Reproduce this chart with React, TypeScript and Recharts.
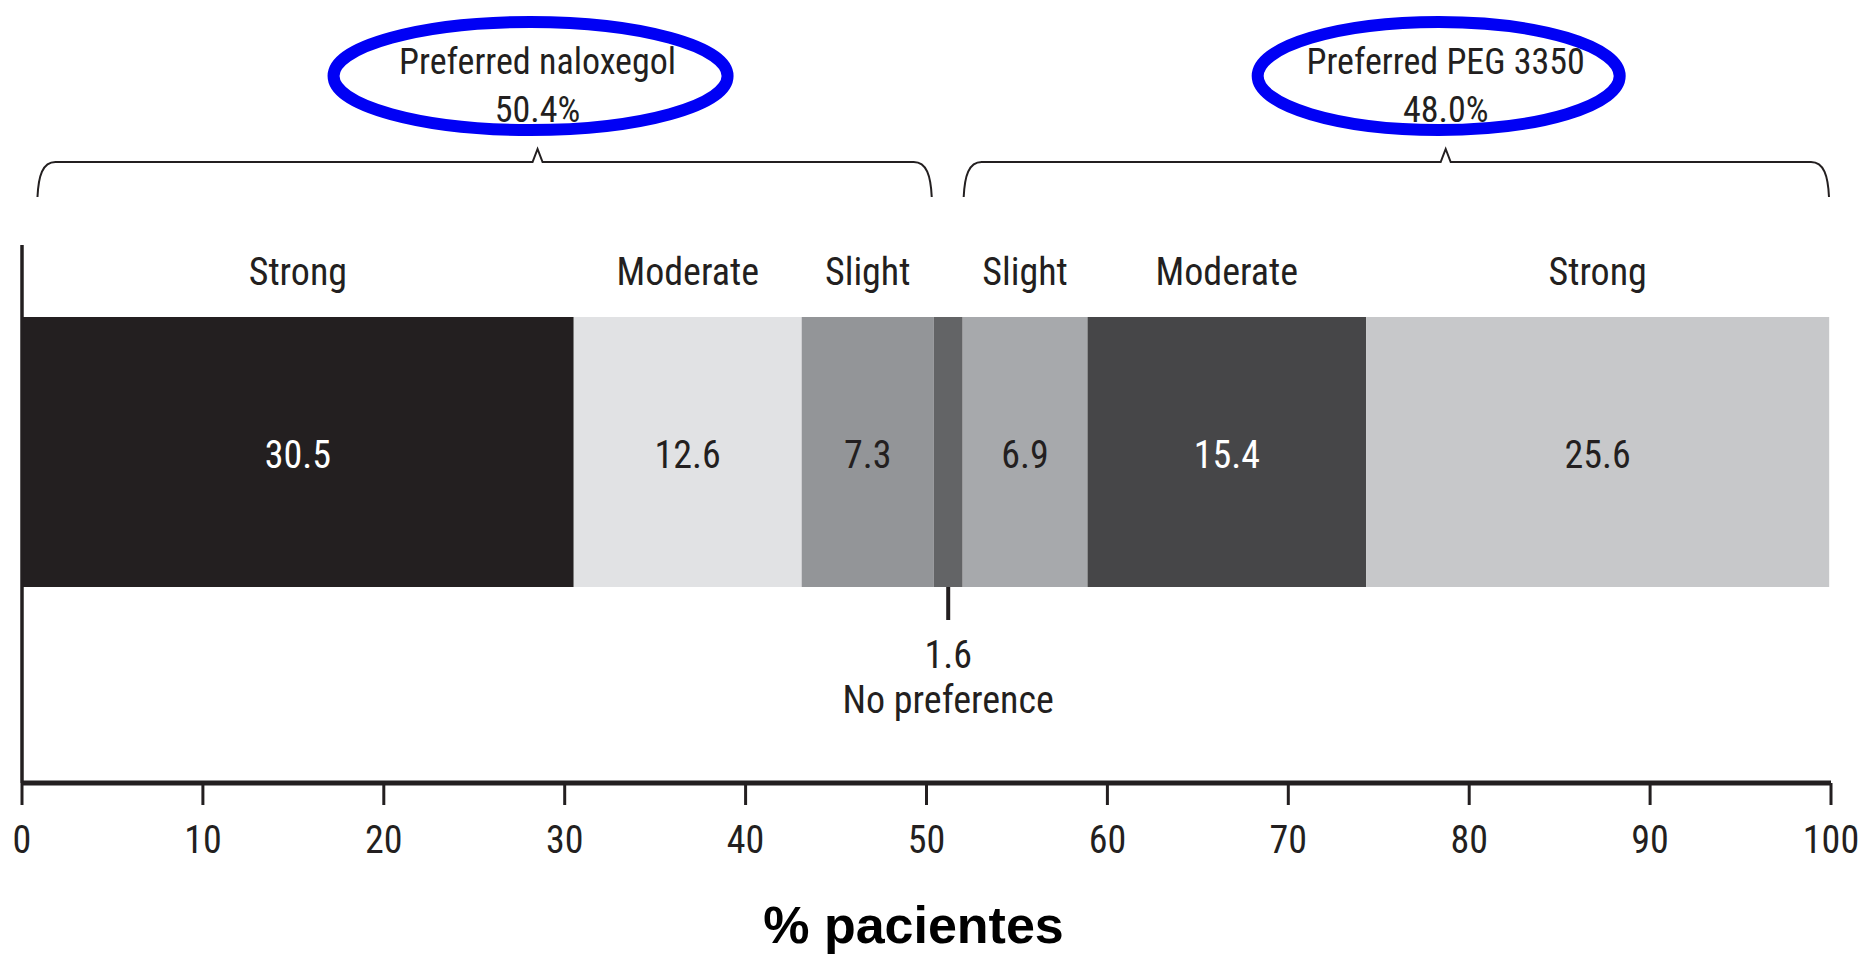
import React from 'react';
import { BarChart, Bar, XAxis, YAxis, LabelList, ReferenceArea, Label } from 'recharts';

// preference strength per segment, left (naloxegol) to right (PEG 3350)
const segmentLabels = ['Strong', 'Moderate', 'Slight', 'No preference', 'Slight', 'Moderate', 'Strong'];
const segmentValues = [30.5, 12.6, 7.3, 1.6, 6.9, 15.4, 25.6];
const xTicks = [0, 10, 20, 30, 40, 50, 60, 70, 80, 90, 100];

const groupTitles = ['Preferred naloxegol', 'Preferred PEG 3350'];
const groupShares = ['50.4%', '48.0%'];
const groupRanges = [[0.8, 50.4], [52.0, 100]];
const groupPeaks = [28.5, 78.7];

const segmentColors = ['#231f20', '#e1e2e4', '#939598', '#636466', '#a7a9ac', '#464648', '#c7c8ca'];
const valueColors = ['#ffffff', '#231f20', '#231f20', '#231f20', '#231f20', '#ffffff', '#231f20'];
const ellipseRx = [197, 181];

const INK = '#231f20';
const FONT = "'Liberation Sans Narrow', 'Arial Narrow', 'Roboto Condensed', 'DejaVu Sans Condensed', 'Liberation Sans', sans-serif";
const FS = 38;

const row: Record<string, string | number> = { name: 'pref' };
segmentValues.forEach((v, i) => {
  row[`s${i}`] = v;
});
const data = [row];

const renderSegment = (p: any, i: number) => {
  const vb = p.viewBox ?? p;
  const cx = vb.x + vb.width / 2;
  const top = vb.y;
  const bottom = vb.y + vb.height;
  const txt = Number(p.value ?? segmentValues[i]).toFixed(1);
  if (segmentLabels[i] === 'No preference') {
    return (
      <g>
        <line x1={cx} x2={cx} y1={bottom} y2={bottom + 33} stroke={INK} strokeWidth={4} />
        <text x={cx} y={bottom + 68} textAnchor="middle" dominantBaseline="central" fontSize={FS} fontFamily={FONT} fill={INK}>{txt}</text>
        <text x={cx} y={bottom + 113} textAnchor="middle" dominantBaseline="central" fontSize={FS} fontFamily={FONT} fill={INK}>{segmentLabels[i]}</text>
      </g>
    );
  }
  return (
    <g>
      <text x={cx} y={top - 45} textAnchor="middle" dominantBaseline="central" fontSize={FS} fontFamily={FONT} fill={INK}>{segmentLabels[i]}</text>
      <text x={cx} y={(top + bottom) / 2 + 3} textAnchor="middle" dominantBaseline="central" fontSize={FS} fontFamily={FONT} fill={valueColors[i]}>{txt}</text>
    </g>
  );
};

const BRACE_Y = 162;
const BRACE_END = 197;

const renderBrace = (p: any, g: number) => {
  const [a, b] = groupRanges[g];
  const x0 = p.x + 1;
  const x1 = p.x + p.width - 2;
  const px = p.x + ((groupPeaks[g] - a) / (b - a)) * p.width;
  const d = [
    `M ${x0} ${BRACE_END}`,
    `C ${x0 + 1} ${BRACE_Y + 14} ${x0 + 5} ${BRACE_Y} ${x0 + 18} ${BRACE_Y}`,
    `L ${px - 5} ${BRACE_Y}`,
    `L ${px} ${BRACE_Y - 13}`,
    `L ${px + 5} ${BRACE_Y}`,
    `L ${x1 - 18} ${BRACE_Y}`,
    `C ${x1 - 5} ${BRACE_Y} ${x1 - 1} ${BRACE_Y + 14} ${x1} ${BRACE_END}`,
  ].join(' ');
  return (
    <g>
      <path d={d} fill="none" stroke={INK} strokeWidth={2} />
      <ellipse cx={px - 7} cy={76} rx={ellipseRx[g]} ry={54} fill="none" stroke="#0000f5" strokeWidth={12} />
      <text x={px} y={62} textAnchor="middle" dominantBaseline="central" fontSize={36} fontFamily={FONT} fill={INK}>{groupTitles[g]}</text>
      <text x={px} y={110} textAnchor="middle" dominantBaseline="central" fontSize={36} fontFamily={FONT} fill={INK}>{groupShares[g]}</text>
    </g>
  );
};

const AxisTitle = (props: any) => {
  const vb = props.viewBox;
  return (
    <text x={vb.x + vb.width / 2 - 13} y={vb.y + 142} textAnchor="middle" dominantBaseline="central"
      fontSize={52} fontWeight="bold" fontFamily="'Liberation Sans', Arial, sans-serif" fill="#000">
      % pacientes
    </text>
  );
};

export default function App() {
  return (
    <div style={{ position: 'absolute', left: 0, top: 0, width: 1871, height: 955, background: '#fff' }}>
      <BarChart width={1871} height={955} data={data} layout="vertical" barCategoryGap={0}
        margin={{ top: 245, right: 40, bottom: 12, left: 0 }}>
        <XAxis type="number" domain={[0, 100]} ticks={xTicks} interval={0} height={160}
          tickSize={22} tickMargin={21}
          axisLine={{ stroke: INK, strokeWidth: 5 }} tickLine={{ stroke: INK, strokeWidth: 3 }}
          tick={{ fill: INK, fontSize: FS, fontFamily: FONT }}
          label={<Label content={AxisTitle} />} />
        <YAxis type="category" dataKey="name" width={22} tick={false} tickLine={false}
          axisLine={{ stroke: INK, strokeWidth: 3.5 }} padding={{ top: 72, bottom: 196 }} />
        {segmentValues.map((_, i) => (
          <Bar key={i} dataKey={`s${i}`} stackId="pref" fill={segmentColors[i]} isAnimationActive={false}>
            <LabelList dataKey={`s${i}`} content={(p: any) => renderSegment(p, i)} />
          </Bar>
        ))}
        {groupRanges.map((r, g) => (
          <ReferenceArea key={g} x1={r[0]} x2={r[1]} ifOverflow="visible"
            shape={(p: any) => renderBrace(p, g)} />
        ))}
      </BarChart>
    </div>
  );
}
